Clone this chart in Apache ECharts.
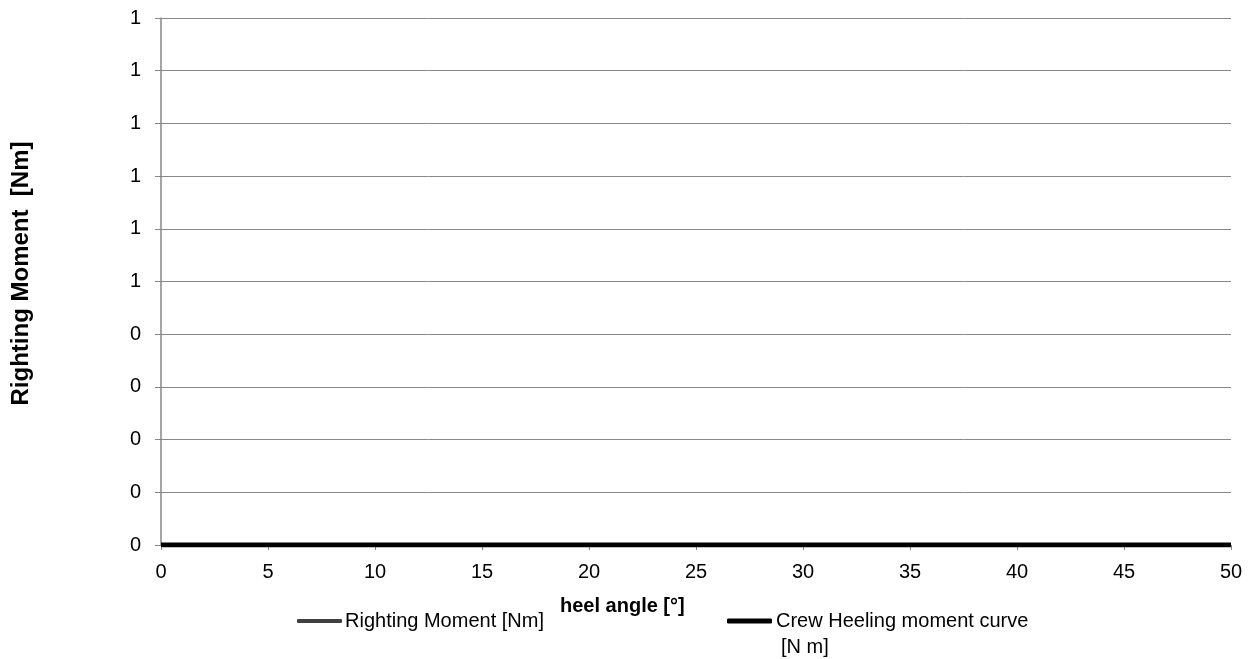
<!DOCTYPE html>
<html>
<head>
<meta charset="utf-8">
<script src="https://cdn.jsdelivr.net/npm/echarts@6/dist/echarts.min.js"></script>
<style>html,body{margin:0;padding:0;background:#fff}#c{width:1250px;height:659px}</style>
</head>
<body>
<div id="c"></div>
<script>
var heelAngles = [0, 5, 10, 15, 20, 25, 30, 35, 40, 45, 50];
var rightingMoment = [0, 0, 0, 0, 0, 0, 0, 0, 0, 0, 0];
var crewHeelingMoment = [0, 0, 0, 0, 0, 0, 0, 0, 0, 0, 0];
var seriesNames = ['Righting Moment [Nm]', 'Crew Heeling moment curve'];
var xTitle = 'heel angle [°]';
var yTitle = 'Righting Moment  [Nm]';
var legendSecondLine = '[N m]';

var FONT = 'Liberation Sans';
function pairs(xs, ys){ return xs.map(function(x,i){ return [x, ys[i]]; }); }

var chart = echarts.init(document.getElementById('c'), null, {renderer:'canvas'});
chart.setOption({
  animation: false,
  backgroundColor: '#fff',
  textStyle: {fontFamily: FONT},
  grid: {left: 161, right: 19, top: 18, bottom: 114, containLabel: false},
  title: {text: xTitle, left: 560, top: 596, padding: 0,
    textStyle: {fontFamily: FONT, fontSize: 20, fontWeight: 'bold', color: '#000'}},
  legend: [
    {data: [seriesNames[0]], left: 297, top: 611, padding: 0, itemWidth: 45, itemHeight: 4, itemGap: 3,
     icon: 'roundRect', textStyle: {fontFamily: FONT, fontSize: 20, color: '#000', padding: [0,0,0,-2]}},
    {data: [seriesNames[1]], left: 727, top: 611, padding: 0, itemWidth: 45, itemHeight: 5, itemGap: 3,
     icon: 'roundRect', textStyle: {fontFamily: FONT, fontSize: 20, color: '#000', padding: [0,0,0,-1]}}
  ],
  graphic: [{type: 'text', left: 781, top: 637, style: {text: legendSecondLine, font: '20px "Liberation Sans"', fill: '#000'}}],
  xAxis: {
    type: 'value', min: 0, max: 50, interval: 5,
    axisLine: {show: true, onZero: false, lineStyle: {color: '#878787', width: 1}},
    axisTick: {show: true, length: 5, lineStyle: {color: '#878787'}},
    axisLabel: {fontFamily: FONT, fontSize: 20, color: '#000', margin: 17},
    splitLine: {show: false}
  },
  yAxis: {
    type: 'value', min: 0, max: 1, interval: 0.1,
    name: yTitle, nameLocation: 'middle', nameGap: 128,
    nameTextStyle: {fontFamily: FONT, fontSize: 24, fontWeight: 'bold', color: '#000', padding: [0, 0, 0, 16]},
    axisLine: {show: true, lineStyle: {color: '#878787', width: 1.5}},
    axisTick: {show: true, length: 6, lineStyle: {color: '#878787'}},
    axisLabel: {fontFamily: FONT, fontSize: 20, color: '#000', margin: 20,
      formatter: function(v){ return Math.round(v).toString(); }},
    splitLine: {show: true, lineStyle: {color: '#898989', width: 1}}
  },
  series: [
    {name: seriesNames[0], type: 'line', data: pairs(heelAngles, rightingMoment), showSymbol: false, symbol: 'none',
     lineStyle: {color: '#404040', width: 3}, itemStyle: {color: '#404040'}, z: 2},
    {name: seriesNames[1], type: 'line', data: pairs(heelAngles, crewHeelingMoment), showSymbol: false, symbol: 'none',
     lineStyle: {color: '#000000', width: 5}, itemStyle: {color: '#000000'}, z: 3}
  ]
});
</script>
</body>
</html>
